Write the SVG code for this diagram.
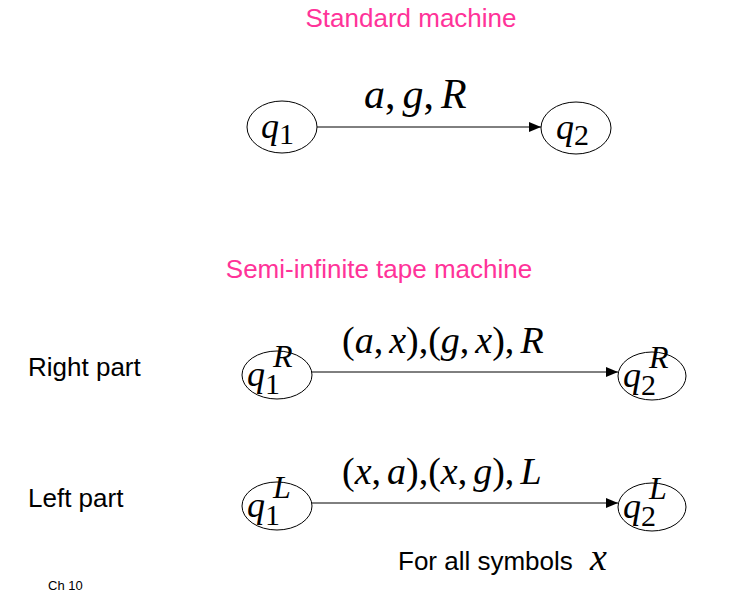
<svg xmlns="http://www.w3.org/2000/svg" width="746" height="595" viewBox="0 0 746 595">
<style>
.n{fill:#fff;stroke:#000;stroke-width:1}
.m{font-family:"Liberation Serif",serif;font-style:italic;fill:#000}
.s{font-family:"Liberation Serif",serif;font-style:normal;fill:#000}
.t{font-family:"Liberation Sans",Arial,sans-serif;fill:#000}
.p{font-family:"Liberation Sans",Arial,sans-serif;fill:#ff3399;font-size:26px}
.e{stroke:#000;stroke-width:1;fill:none;marker-end:url(#a)}
</style>
<defs><marker id="a" markerWidth="12" markerHeight="10" refX="12" refY="5" orient="auto" markerUnits="userSpaceOnUse"><path d="M0,0 L12,5 L0,10 z" fill="#000"/></marker></defs>
<rect width="746" height="595" fill="#fff"/>
<text class="p" x="411" y="27" text-anchor="middle">Standard machine</text>
<text class="p" x="379" y="278" text-anchor="middle">Semi-infinite tape machine</text>
<text class="t" x="28" y="376" font-size="26">Right part</text>
<text class="t" x="28" y="507" font-size="26">Left part</text>
<text class="t" x="48" y="590" font-size="13">Ch 10</text>
<g id="connectors">
<line class="e" x1="317" y1="127" x2="541" y2="127"/>
<line class="e" x1="312" y1="372" x2="618" y2="372"/>
<line class="e" x1="312" y1="503" x2="618" y2="503"/>
</g>
<g id="labels">
<text class="m" x="364" y="108" font-size="42">a<tspan class="s">,</tspan><tspan dx="7">g</tspan><tspan class="s">,</tspan><tspan dx="7">R</tspan></text>
<text class="m" x="342" y="353" font-size="38"><tspan class="s">(</tspan>a<tspan class="s">,</tspan><tspan dx="6">x</tspan><tspan class="s">),(</tspan>g<tspan class="s">,</tspan><tspan dx="6">x</tspan><tspan class="s">),</tspan><tspan dx="6">R</tspan></text>
<text class="m" x="342" y="484" font-size="38"><tspan class="s">(</tspan>x<tspan class="s">,</tspan><tspan dx="6">a</tspan><tspan class="s">),(</tspan>x<tspan class="s">,</tspan><tspan dx="6">g</tspan><tspan class="s">),</tspan><tspan dx="6">L</tspan></text>
<text class="t" x="398" y="570" font-size="26">For all symbols</text>
<text class="m" x="590" y="570" font-size="38">x</text>
</g>
<g id="q1"><ellipse class="n" cx="282" cy="127" rx="35" ry="26"/><text class="m" x="261" y="138" font-size="36">q<tspan class="s" font-size="30" dy="6">1</tspan></text></g>
<g id="q2"><ellipse class="n" cx="576" cy="128" rx="35" ry="26"/><text class="m" x="556" y="139" font-size="36">q<tspan class="s" font-size="30" dy="6">2</tspan></text></g>
<g id="q1R"><ellipse class="n" cx="277" cy="375" rx="35" ry="24"/><text class="m" x="247" y="386" font-size="36">q<tspan class="s" font-size="30" dy="8">1</tspan></text><text class="m" x="273" y="367" font-size="32">R</text></g>
<g id="q2R"><ellipse class="n" cx="652" cy="376" rx="34" ry="24"/><text class="m" x="623" y="387" font-size="36">q<tspan class="s" font-size="30" dy="8">2</tspan></text><text class="m" x="649" y="368" font-size="32">R</text></g>
<g id="q1L"><ellipse class="n" cx="277" cy="506" rx="35" ry="24"/><text class="m" x="247" y="517" font-size="36">q<tspan class="s" font-size="30" dy="8">1</tspan></text><text class="m" x="273" y="498" font-size="32">L</text></g>
<g id="q2L"><ellipse class="n" cx="652" cy="507" rx="34" ry="24"/><text class="m" x="623" y="518" font-size="36">q<tspan class="s" font-size="30" dy="8">2</tspan></text><text class="m" x="649" y="499" font-size="32">L</text></g>
</svg>
